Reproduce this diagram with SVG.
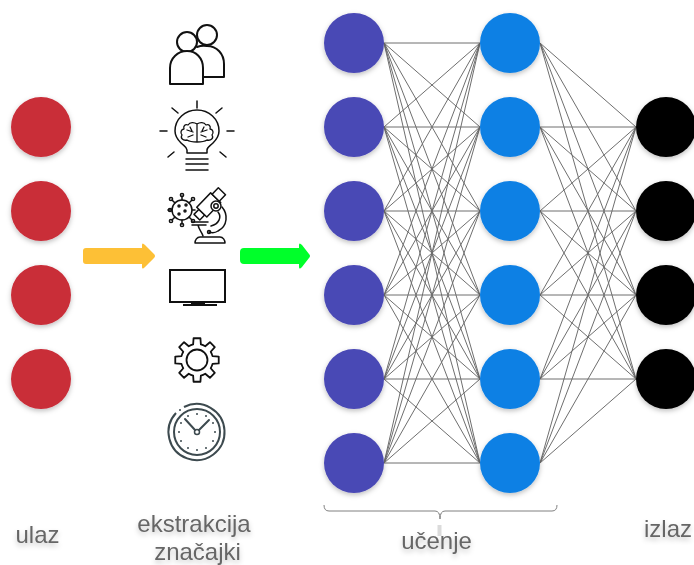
<svg xmlns="http://www.w3.org/2000/svg" width="694" height="565" viewBox="0 0 694 565">
<defs>
<filter id="sh" x="-30%" y="-30%" width="160%" height="170%"><feDropShadow dx="0" dy="2" stdDeviation="2.5" flood-color="#000" flood-opacity="0.25"/></filter>
<filter id="ts" x="-20%" y="-30%" width="140%" height="170%"><feDropShadow dx="0" dy="3" stdDeviation="2.5" flood-color="#000" flood-opacity="0.22"/></filter>
<circle id="n" r="30"/>
</defs>
<style>
.red{fill:#c92d39;filter:url(#sh)}
.pur{fill:#4a48b5;filter:url(#sh)}
.blu{fill:#0e80e4;filter:url(#sh)}
.blk{fill:#000;filter:url(#sh)}
.c line{stroke:#6e6e6e;stroke-width:1}
.i{fill:none;stroke:#111;stroke-width:2;stroke-linecap:round;stroke-linejoin:round}
.t{font-family:"Liberation Sans",Arial,sans-serif;font-size:24px;fill:#666;text-anchor:middle;filter:url(#ts)}
</style>
<rect width="694" height="565" fill="#fff"/>
<g id="connectors" class="c">
<line x1="384" y1="43" x2="480" y2="43"/><line x1="384" y1="43" x2="480" y2="127"/><line x1="384" y1="43" x2="480" y2="211"/><line x1="384" y1="43" x2="480" y2="295"/><line x1="384" y1="43" x2="480" y2="379"/><line x1="384" y1="43" x2="480" y2="463"/>
<line x1="384" y1="127" x2="480" y2="43"/><line x1="384" y1="127" x2="480" y2="127"/><line x1="384" y1="127" x2="480" y2="211"/><line x1="384" y1="127" x2="480" y2="295"/><line x1="384" y1="127" x2="480" y2="379"/><line x1="384" y1="127" x2="480" y2="463"/>
<line x1="384" y1="211" x2="480" y2="43"/><line x1="384" y1="211" x2="480" y2="127"/><line x1="384" y1="211" x2="480" y2="211"/><line x1="384" y1="211" x2="480" y2="295"/><line x1="384" y1="211" x2="480" y2="379"/><line x1="384" y1="211" x2="480" y2="463"/>
<line x1="384" y1="295" x2="480" y2="43"/><line x1="384" y1="295" x2="480" y2="127"/><line x1="384" y1="295" x2="480" y2="211"/><line x1="384" y1="295" x2="480" y2="295"/><line x1="384" y1="295" x2="480" y2="379"/><line x1="384" y1="295" x2="480" y2="463"/>
<line x1="384" y1="379" x2="480" y2="43"/><line x1="384" y1="379" x2="480" y2="127"/><line x1="384" y1="379" x2="480" y2="211"/><line x1="384" y1="379" x2="480" y2="295"/><line x1="384" y1="379" x2="480" y2="379"/><line x1="384" y1="379" x2="480" y2="463"/>
<line x1="384" y1="463" x2="480" y2="43"/><line x1="384" y1="463" x2="480" y2="127"/><line x1="384" y1="463" x2="480" y2="211"/><line x1="384" y1="463" x2="480" y2="295"/><line x1="384" y1="463" x2="480" y2="379"/><line x1="384" y1="463" x2="480" y2="463"/>
<line x1="540" y1="43" x2="636" y2="127"/><line x1="540" y1="43" x2="636" y2="211"/><line x1="540" y1="43" x2="636" y2="295"/><line x1="540" y1="43" x2="636" y2="379"/>
<line x1="540" y1="127" x2="636" y2="127"/><line x1="540" y1="127" x2="636" y2="211"/><line x1="540" y1="127" x2="636" y2="295"/><line x1="540" y1="127" x2="636" y2="379"/>
<line x1="540" y1="211" x2="636" y2="127"/><line x1="540" y1="211" x2="636" y2="211"/><line x1="540" y1="211" x2="636" y2="295"/><line x1="540" y1="211" x2="636" y2="379"/>
<line x1="540" y1="295" x2="636" y2="127"/><line x1="540" y1="295" x2="636" y2="211"/><line x1="540" y1="295" x2="636" y2="295"/><line x1="540" y1="295" x2="636" y2="379"/>
<line x1="540" y1="379" x2="636" y2="127"/><line x1="540" y1="379" x2="636" y2="211"/><line x1="540" y1="379" x2="636" y2="295"/><line x1="540" y1="379" x2="636" y2="379"/>
<line x1="540" y1="463" x2="636" y2="127"/><line x1="540" y1="463" x2="636" y2="211"/><line x1="540" y1="463" x2="636" y2="295"/><line x1="540" y1="463" x2="636" y2="379"/>
</g>
<g id="input-nodes">
<use id="in1" href="#n" x="41" y="127" class="red"/><use id="in2" href="#n" x="41" y="211" class="red"/><use id="in3" href="#n" x="41" y="295" class="red"/><use id="in4" href="#n" x="41" y="379" class="red"/>
</g>
<g id="hidden1-nodes">
<use id="a1" href="#n" x="354" y="43" class="pur"/><use id="a2" href="#n" x="354" y="127" class="pur"/><use id="a3" href="#n" x="354" y="211" class="pur"/><use id="a4" href="#n" x="354" y="295" class="pur"/><use id="a5" href="#n" x="354" y="379" class="pur"/><use id="a6" href="#n" x="354" y="463" class="pur"/>
</g>
<g id="hidden2-nodes">
<use id="b1" href="#n" x="510" y="43" class="blu"/><use id="b2" href="#n" x="510" y="127" class="blu"/><use id="b3" href="#n" x="510" y="211" class="blu"/><use id="b4" href="#n" x="510" y="295" class="blu"/><use id="b5" href="#n" x="510" y="379" class="blu"/><use id="b6" href="#n" x="510" y="463" class="blu"/>
</g>
<g id="output-nodes">
<use id="o1" href="#n" x="666" y="127" class="blk"/><use id="o2" href="#n" x="666" y="211" class="blk"/><use id="o3" href="#n" x="666" y="295" class="blk"/><use id="o4" href="#n" x="666" y="379" class="blk"/>
</g>
<g id="arrow-yellow"><path d="M86 248H142V245Q142 242 145 245L154 254Q156 256 154 258L145 267Q142 270 142 267V264H86Q83 264 83 261V251Q83 248 86 248Z" fill="#fdc036"/></g>
<g id="arrow-green"><path d="M244 248H299V245Q299 242 302 245L309 254Q311 256 309 258L302 267Q299 270 299 267V264H244Q240 264 240 260V252Q240 248 244 248Z" fill="#00ff2a"/></g>
<g id="icon-people" class="i">
<circle cx="207" cy="35" r="10"/><path d="M197 47Q202 45 207 46C217 46 224 54 224 64V77H203"/>
<circle cx="187" cy="42" r="10"/><path d="M170 84V68C170 58 178 51 187 51C196 51 203 58 203 68V84Z" fill="#fff"/>
</g>
<g id="icon-bulb" class="i" style="stroke-width:1.500">
<path d="M197 101V108M172 108L178 113M222 108L216 113M160 131H167M227 131H234M168 157L174 152M226 157L220 152"/>
<path d="M187 153V150C187 147 184 146 181 143C177 139 175 136 175 131C175 119 185 110 197 110C209 110 219 119 219 131C219 136 217 139 213 143C210 146 207 147 207 150V153Z"/>
<path d="M186 159H208M186 164H208M186 170H208"/>
<path style="stroke-width:1.300" d="M197 124V142M197 124C194 122 190 122 188 125C185 124 183 126 184 129C181 129 180 133 182 135C180 138 183 141 187 140C190 142 194 142 197 142C200 142 204 142 207 140C211 141 214 138 212 135C214 133 213 129 210 129C211 126 209 124 206 125C204 122 200 122 197 124M187 130L193 132M190 127L192 131M201 132L207 130M204 127L202 131M188 137L193 135M206 137L201 135"/>
</g>
<g id="icon-microscope" class="i" style="stroke-width:1.500">
<circle cx="182" cy="210" r="10"/>
<path d="M182 200V196M182 220V224M172 210H168M192 210H195M175 203L172 200M189 217L192 220M189 203L192 200M175 217L172 220"/>
<circle cx="182" cy="195" r="1.600"/><circle cx="182" cy="225" r="1.600"/><circle cx="171" cy="199" r="1.600"/><circle cx="193" cy="199" r="1.600"/><circle cx="171" cy="221" r="1.600"/><circle cx="193" cy="221" r="1.600"/><circle cx="170" cy="210" r="1.600"/>
<circle cx="179" cy="206" r="1"/><circle cx="185" cy="211" r="1"/><circle cx="179" cy="214" r="1"/><circle cx="186" cy="205" r="1"/>
<g transform="translate(199 215) rotate(-46)" fill="#fff">
<rect x="-3" y="-4" width="7" height="8" fill="#fff"/>
<rect x="4" y="-7" width="20" height="14" fill="#fff"/>
<rect x="24" y="-5" width="9" height="10" fill="#fff"/>
</g>
<circle cx="216" cy="206" r="5" fill="#fff"/><circle cx="216" cy="206" r="2.200"/>
<path d="M222 207C228 214 228 226 218 231C215 233 212 233 209 232M218 212C222 217 219 224 211 226"/>
<path d="M192 222H208M192 225H206M198 225C199 230 202 232 203 236"/>
<circle cx="209" cy="232" r="1.500"/>
<path d="M195 243C195 240 197 237 200 237H220C223 237 225 240 225 243Z"/>
</g>
<g id="icon-monitor">
<rect x="170" y="270" width="55" height="32" fill="none" stroke="#111" stroke-width="2"/>
<path d="M191 302.500H205V304H217V306H183V304H191Z" fill="#111"/>
</g>
<g id="icon-gear" class="i" style="stroke-width:1.800" transform="translate(197 360)">
<circle r="10.500"/>
<path d="M-3.87-15.520L-3.440-21.730H3.440L3.870-15.520A16 16 0 0 1 8.240-13.710L12.930-17.800L17.800-12.930L13.710-8.240A16 16 0 0 1 15.520-3.870L21.730-3.440V3.440L15.520 3.870A16 16 0 0 1 13.710 8.240L17.800 12.930L12.930 17.800L8.240 13.710A16 16 0 0 1 3.870 15.520L3.440 21.730H-3.440L-3.870 15.520A16 16 0 0 1-8.240 13.710L-12.930 17.800L-17.800 12.930L-13.710 8.240A16 16 0 0 1-15.520 3.870L-21.730 3.440V-3.440L-15.520-3.870A16 16 0 0 1-13.710-8.240L-17.800-12.930L-12.930-17.800L-8.240-13.710A16 16 0 0 1-3.870-15.520Z"/>
</g>
<g id="icon-clock" fill="none" stroke="#3d4a4f">
<path d="M184 407A28 28 0 1 1 176 413" stroke-width="2"/>
<circle cx="197" cy="432" r="23" stroke-width="2"/>
<circle cx="197" cy="432" r="2.500" stroke-width="1.500"/>
<path d="M195 430L185 419M199 430L209 420" stroke-width="2" stroke-linecap="round"/>
<g fill="#3d4a4f" stroke="none"><circle cx="197" cy="414" r="1"/><circle cx="206" cy="416" r="1"/><circle cx="213" cy="423" r="1"/><circle cx="215" cy="432" r="1"/><circle cx="213" cy="441" r="1"/><circle cx="206" cy="448" r="1"/><circle cx="197" cy="450" r="1"/><circle cx="188" cy="448" r="1"/><circle cx="181" cy="441" r="1"/><circle cx="179" cy="432" r="1"/><circle cx="181" cy="423" r="1"/><circle cx="188" cy="416" r="1"/><circle cx="180" cy="410" r="1"/></g>
</g>
<g id="brace"><path d="M324 505Q324 511 329 511H435Q440 511 440 519Q440 511 445 511H552Q557 511 557 505" fill="none" stroke="#808080" stroke-width="1"/></g>
<rect x="437.500" y="525" width="4" height="11" fill="#ccc" opacity=".7"/>
<g id="labels">
<text class="t" x="37.500" y="543">ulaz</text>
<text class="t" x="194" y="532">ekstrakcija</text>
<text class="t" x="197.500" y="560">značajki</text>
<text class="t" x="436.500" y="549">učenje</text>
<text class="t" x="668" y="537">izlaz</text>
</g>
</svg>
